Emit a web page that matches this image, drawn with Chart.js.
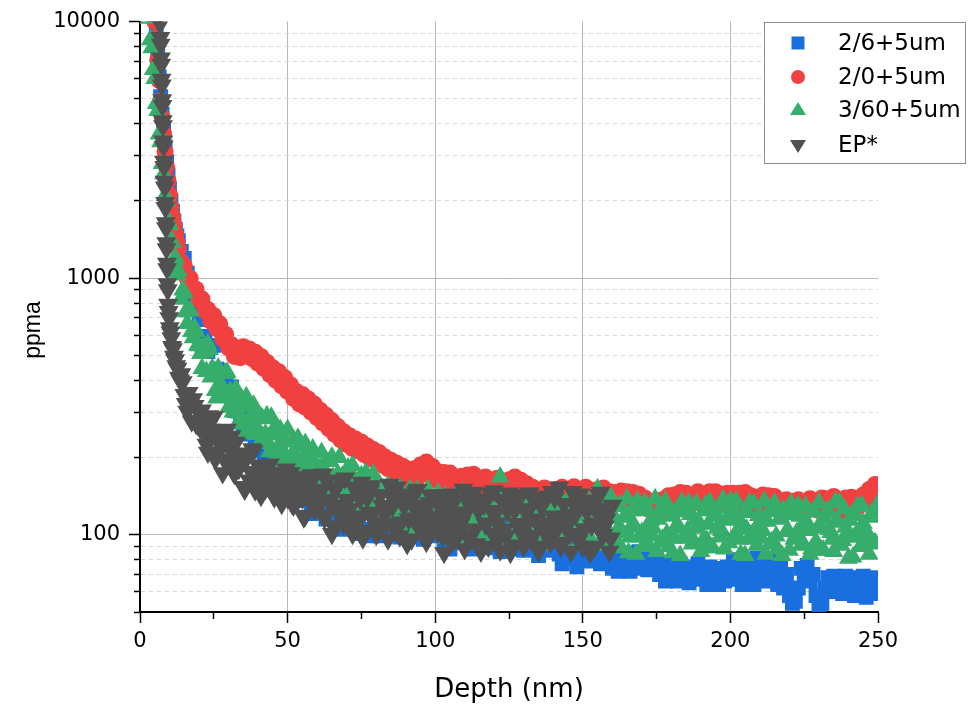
<!DOCTYPE html>
<html>
<head>
<meta charset="utf-8">
<title>ppma vs depth</title>
<script src="https://cdn.jsdelivr.net/npm/chart.js@4.4.0/dist/chart.umd.min.js"></script>
<style>
  html, body { margin: 0; padding: 0; background: #fff; }
  #wrap { width: 978px; height: 706px; }
</style>
</head>
<body>
<div id="wrap"><canvas id="chart" width="978" height="706"></canvas></div>
<script>
// depth grid (nm) shared by the three 5um samples
const depth = [
  2, 2.5, 3, 3.5, 4, 4.5, 5, 5.5, 6, 6.5, 7, 7.5, 8, 8.5, 9, 9.5, 10, 10.5, 11, 11.5, 12, 12.5,
  13, 14, 15, 16, 17, 18, 19, 20,
  21, 22, 23, 24, 25, 26, 27, 28, 29, 30,
  31, 32, 33, 34, 35, 36, 37, 38, 39, 40,
  41, 42, 43, 44, 45, 46, 47, 48, 49, 50,
  51, 52, 53, 54, 55, 56, 57, 58, 59, 60,
  61, 62, 63, 64, 65, 66, 67, 68, 69, 70,
  71, 72, 73, 74, 75, 76, 77, 78, 79, 80,
  81, 82, 83, 84, 85, 86, 87, 88, 89, 90,
  91, 92, 93, 94, 95, 96, 97, 98, 99, 100,
  101, 102, 103, 104, 105, 106, 107, 108, 109, 110,
  111, 112, 113, 114, 115, 116, 117, 118, 119, 120,
  121, 122, 123, 124, 125, 126, 127, 128, 129, 130,
  131, 132, 133, 134, 135, 136, 137, 138, 139, 140,
  141, 142, 143, 144, 145, 146, 147, 148, 149, 150,
  151, 152, 153, 154, 155, 156, 157, 158, 159, 160,
  161, 162, 163, 164, 165, 166, 167, 168, 169, 170,
  171, 172, 173, 174, 175, 176, 177, 178, 179, 180,
  181, 182, 183, 184, 185, 186, 187, 188, 189, 190,
  191, 192, 193, 194, 195, 196, 197, 198, 199, 200,
  201, 202, 203, 204, 205, 206, 207, 208, 209, 210,
  211, 212, 213, 214, 215, 216, 217, 218, 219, 220,
  221, 222, 223, 224, 225, 226, 227, 228, 229, 230,
  231, 232, 233, 234, 235, 236, 237, 238, 239, 240,
  241, 242, 243, 244, 245, 246, 247, 248, 249, 250
];

// in-between readings (nm), used by the two noisiest profiles
const depthMid = [
  14.5, 15.5, 16.5, 17.5, 18.5, 19.5,
  20.5, 21.5, 22.5, 23.5, 24.5, 25.5, 26.5, 27.5, 28.5, 29.5,
  30.5, 31.5, 32.5, 33.5, 34.5, 35.5, 36.5, 37.5, 38.5, 39.5,
  40.5, 41.5, 42.5, 43.5, 44.5, 45.5, 46.5, 47.5, 48.5, 49.5,
  50.5, 51.5, 52.5, 53.5, 54.5, 55.5, 56.5, 57.5, 58.5, 59.5,
  60.5, 61.5, 62.5, 63.5, 64.5, 65.5, 66.5, 67.5, 68.5, 69.5,
  70.5, 71.5, 72.5, 73.5, 74.5, 75.5, 76.5, 77.5, 78.5, 79.5,
  80.5, 81.5, 82.5, 83.5, 84.5, 85.5, 86.5, 87.5, 88.5, 89.5,
  90.5, 91.5, 92.5, 93.5, 94.5, 95.5, 96.5, 97.5, 98.5, 99.5,
  100.5, 101.5, 102.5, 103.5, 104.5, 105.5, 106.5, 107.5, 108.5, 109.5,
  110.5, 111.5, 112.5, 113.5, 114.5, 115.5, 116.5, 117.5, 118.5, 119.5,
  120.5, 121.5, 122.5, 123.5, 124.5, 125.5, 126.5, 127.5, 128.5, 129.5,
  130.5, 131.5, 132.5, 133.5, 134.5, 135.5, 136.5, 137.5, 138.5, 139.5,
  140.5, 141.5, 142.5, 143.5, 144.5, 145.5, 146.5, 147.5, 148.5, 149.5,
  150.5, 151.5, 152.5, 153.5, 154.5, 155.5, 156.5, 157.5, 158.5, 159.5,
  160.5, 161.5, 162.5, 163.5, 164.5, 165.5, 166.5, 167.5, 168.5, 169.5,
  170.5, 171.5, 172.5, 173.5, 174.5, 175.5, 176.5, 177.5, 178.5, 179.5,
  180.5, 181.5, 182.5, 183.5, 184.5, 185.5, 186.5, 187.5, 188.5, 189.5,
  190.5, 191.5, 192.5, 193.5, 194.5, 195.5, 196.5, 197.5, 198.5, 199.5,
  200.5, 201.5, 202.5, 203.5, 204.5, 205.5, 206.5, 207.5, 208.5, 209.5,
  210.5, 211.5, 212.5, 213.5, 214.5, 215.5, 216.5, 217.5, 218.5, 219.5,
  220.5, 221.5, 222.5, 223.5, 224.5, 225.5, 226.5, 227.5, 228.5, 229.5,
  230.5, 231.5, 232.5, 233.5, 234.5, 235.5, 236.5, 237.5, 238.5, 239.5,
  240.5, 241.5, 242.5, 243.5, 244.5, 245.5, 246.5, 247.5, 248.5, 249.5
];

// 2/6+5um (ppma)
const blueValues = [
  null, null, 17000, 15000, 13200, 11600, 10400, 8900, 7400, 6100, 5100, 4350, 3750, 3250, 2850, 2520, 2230, 2000, 1820, 1670, 1550, 1460,
  1400, 1270, 1195, 1045, 960, 850, 785, 690,
  701, 593, 517, 538, 547, 442, 437, 367, 406, 353,
  377, 305, 317, 294, 258, 288, 247, 275, 221, 239,
  246, 196, 211, 196, 172, 202, 170, 198, 155, 174,
  177, 155, 139, 156, 167, 136, 142, 121, 145, 129,
  145, 128, 115, 132, 143, 117, 123, 105, 129, 114,
  133, 107, 119, 114, 101, 123, 105, 127, 99, 115,
  99, 122, 109, 127, 103, 114, 109, 98, 120, 102,
  124, 98, 113, 118, 105, 96, 110, 121, 99, 105,
  104, 114, 95, 101, 88, 107, 97, 112, 93, 103,
  97, 88, 106, 92, 111, 89, 103, 107, 97, 89,
  95, 86, 104, 91, 109, 88, 101, 105, 95, 87,
  98, 107, 89, 95, 83, 101, 91, 105, 87, 97,
  93, 84, 77, 89, 97, 81, 86, 75, 91, 82,
  88, 79, 90, 80, 86, 77, 84, 80, 83, 74,
  82, 72, 84, 78, 85, 72, 82, 74, 86, 76,
  84, 73, 87, 78, 82, 70, 76, 66, 77, 68,
  74, 66, 77, 69, 75, 65, 72, 67, 77, 70,
  73, 64, 75, 68, 74, 64, 71, 66, 75, 67,
  80, 68, 77, 64, 79, 70, 76, 64, 81, 72,
  78, 66, 80, 71, 77, 64, 74, 62, 70, 58,
  54, 55, 62, 74, 67, 76, 66, 70, 58, 53,
  54, 62, 68, 60, 69, 61, 67, 59, 69, 62,
  68, 58, 66, 60, 69, 57, 65, 59, 68, 62
];

// 2/0+5um (ppma)
const redValues = [
  null, null, 16000, 14000, 12500, 11200, 10000, 8600, 7100, 5900, 4900, 4250, 3650, 3120, 2720, 2400, 2120, 1900, 1740, 1610, 1490, 1390,
  1300, 1160, 1120, 1000, 1000, 890, 905, 825,
  830, 745, 755, 680, 715, 635, 665, 580, 605, 535,
  550, 495, 525, 490, 540, 500, 530, 485, 515, 465,
  495, 445, 470, 420, 448, 400, 432, 380, 410, 362,
  384, 340, 362, 323, 352, 314, 338, 300, 323, 286,
  306, 272, 292, 259, 278, 246, 264, 234, 252, 225,
  243, 217, 236, 212, 230, 205, 222, 198, 215, 193,
  209, 187, 201, 181, 195, 175, 190, 170, 185, 166,
  180, 163, 181, 167, 187, 172, 192, 171, 185, 164,
  176, 158, 175, 162, 174, 155, 168, 151, 169, 156,
  171, 157, 172, 153, 166, 154, 168, 150, 163, 149,
  166, 147, 159, 146, 164, 151, 168, 150, 163, 145,
  158, 141, 153, 137, 148, 136, 152, 138, 148, 136,
  150, 140, 153, 139, 149, 140, 154, 141, 150, 140,
  153, 140, 149, 136, 150, 141, 152, 137, 147, 136,
  146, 132, 148, 139, 147, 138, 146, 137, 144, 132,
  139, 126, 135, 127, 136, 123, 137, 129, 142, 133,
  143, 134, 146, 133, 145, 132, 142, 134, 147, 135,
  144, 135, 147, 134, 147, 135, 144, 132, 145, 135,
  145, 132, 145, 133, 146, 133, 142, 130, 140, 131,
  143, 130, 142, 129, 141, 127, 135, 123, 137, 125,
  135, 127, 137, 123, 133, 125, 138, 126, 134, 124,
  139, 129, 138, 125, 141, 129, 132, 123, 139, 130,
  140, 126, 138, 130, 143, 134, 150, 143, 157, 146
];

// 3/60+5um (ppma)
const greenValues = [
  13000, 11200, 10300, 8500, 7900, 6500, 6000, 4800, 4500, 3650, 3400, 2800, 2550, 2100, 2000, 1680, 1620, 1380, 1380, 1180, 1200, 1030,
  1070, 828, 875, 666, 748, 586, 620, 545,
  445, 516, 554, 412, 432, 341, 432, 360, 425, 314,
  353, 324, 270, 344, 275, 345, 248, 296, 304, 257,
  287, 230, 291, 211, 254, 263, 223, 193, 232, 257,
  196, 210, 170, 220, 188, 227, 171, 196, 183, 155,
  182, 143, 193, 162, 201, 147, 172, 159, 133, 178,
  141, 186, 131, 162, 170, 142, 123, 152, 172, 129,
  158, 119, 147, 155, 131, 113, 140, 152, 119, 131,
  104, 141, 119, 149, 110, 130, 121, 102, 138, 110,
  145, 110, 121, 97, 132, 113, 142, 105, 125, 117,
  97, 131, 106, 140, 100, 126, 134, 114, 99, 124,
  119, 168, 95, 129, 104, 138, 98, 124, 131, 112,
  96, 119, 137, 103, 114, 91, 125, 106, 133, 99,
  128, 109, 95, 118, 136, 102, 113, 90, 124, 105,
  135, 94, 116, 108, 151, 127, 98, 138, 91, 121,
  129, 106, 89, 117, 138, 98, 111, 84, 124, 102,
  133, 92, 114, 106, 86, 125, 96, 135, 90, 119,
  97, 110, 83, 123, 101, 133, 92, 114, 106, 86,
  124, 95, 134, 89, 118, 127, 104, 88, 115, 135,
  115, 135, 96, 109, 83, 122, 100, 132, 91, 113,
  104, 84, 123, 94, 133, 88, 117, 125, 103, 87,
  120, 99, 130, 91, 112, 104, 84, 123, 94, 133,
  87, 116, 124, 102, 86, 113, 133, 95, 107, 81,
  119, 98, 129, 90, 111, 103, 84, 122, 93, 132
];

// 3/60+5um at depthMid
const greenMidValues = [
  900, 740, 745, 620, 640, 548,
  509, 541, 433, 527, 445, 365, 447, 383, 347, 430,
  362, 301, 369, 298, 323, 248, 316, 276, 320, 246,
  227, 283, 247, 227, 287, 245, 207, 257, 211, 231,
  179, 230, 203, 238, 184, 189, 208, 172, 216, 188,
  162, 209, 179, 148, 193, 167, 154, 200, 169, 141,
  182, 146, 164, 124, 165, 145, 174, 132, 137, 153,
  152, 131, 147, 111, 149, 131, 150, 120, 126, 141,
  115, 150, 129, 108, 141, 124, 114, 150, 129, 108,
  115, 130, 107, 141, 122, 103, 135, 119, 111, 146,
  122, 103, 135, 110, 125, 96, 129, 115, 139, 107,
  114, 106, 140, 120, 102, 133, 108, 123, 94, 127,
  111, 135, 103, 109, 123, 101, 132, 115, 97, 127,
  111, 103, 137, 117, 99, 129, 105, 119, 92, 124,
  106, 122, 97, 134, 113, 91, 127, 109, 100, 140,
  116, 94, 130, 102, 119, 85, 124, 107, 135, 98,
  90, 125, 107, 99, 138, 115, 94, 129, 101, 118,
  85, 123, 106, 134, 97, 104, 120, 95, 132, 111,
  94, 130, 110, 89, 124, 106, 98, 137, 114, 93,
  128, 100, 117, 84, 122, 105, 133, 96, 103, 119,
  97, 135, 113, 92, 127, 99, 115, 83, 120, 104,
  132, 96, 102, 118, 93, 129, 109, 88, 123, 106,
  108, 87, 122, 105, 96, 134, 112, 91, 126, 98,
  114, 82, 119, 103, 130, 95, 101, 117, 92, 128
];

// EP* has its own, finer depth grid near the surface and stops at 160 nm
const epDepth = [
  6.7, 6.8, 6.9, 7, 7.1, 7.2, 7.3, 7.4, 7.5, 7.6, 7.7, 7.8, 7.9, 8, 8.1, 8.2, 8.3, 8.4, 8.5, 8.6,
  8.7, 8.8, 8.9, 9, 9.1, 9.2, 9.3, 9.4, 9.5,
  9.7, 9.9, 10.1, 10.3, 10.6, 10.9, 11.2, 11.5, 11.9, 12.3, 12.7, 13.2, 13.6,
  14, 15, 16, 17, 18, 19, 20,
  21, 22, 23, 24, 25, 26, 27, 28, 29, 30,
  31, 32, 33, 34, 35, 36, 37, 38, 39, 40,
  41, 42, 43, 44, 45, 46, 47, 48, 49, 50,
  51, 52, 53, 54, 55, 56, 57, 58, 59, 60,
  61, 62, 63, 64, 65, 66, 67, 68, 69, 70,
  71, 72, 73, 74, 75, 76, 77, 78, 79, 80,
  81, 82, 83, 84, 85, 86, 87, 88, 89, 90,
  91, 92, 93, 94, 95, 96, 97, 98, 99, 100,
  101, 102, 103, 104, 105, 106, 107, 108, 109, 110,
  111, 112, 113, 114, 115, 116, 117, 118, 119, 120,
  121, 122, 123, 124, 125, 126, 127, 128, 129, 130,
  131, 132, 133, 134, 135, 136, 137, 138, 139, 140,
  141, 142, 143, 144, 145, 146, 147, 148, 149, 150,
  151, 152, 153, 154, 155, 156, 157, 158, 159, 160
];

const epValues = [
  10800, 9800, 8650, 8150, 7200, 6800, 5950, 5650, 4950, 4700, 4100, 3920, 3420, 3260, 2850, 2720, 2380, 2260, 1970, 1880,
  1640, 1570, 1370, 1300, 1140, 1085, 950, 900, 790,
  740, 700, 640, 615, 585, 540, 530, 495, 480, 455, 445, 410, 400,
  423, 351, 302, 324, 338, 271, 278,
  306, 250, 209, 257, 288, 209, 226, 174, 235, 194,
  242, 173, 203, 187, 154, 208, 163, 216, 149, 186,
  142, 181, 157, 188, 144, 164, 154, 132, 169, 139,
  174, 130, 155, 162, 139, 119, 149, 171, 126, 139,
  146, 172, 120, 136, 101, 150, 123, 162, 110, 137,
  126, 101, 149, 113, 160, 104, 139, 148, 121, 100,
  105, 130, 121, 96, 142, 108, 153, 99, 132, 143,
  115, 96, 128, 150, 106, 120, 94, 133, 108, 143,
  102, 117, 85, 132, 106, 144, 96, 122, 112, 88,
  134, 99, 146, 92, 127, 137, 110, 90, 124, 148,
  111, 87, 133, 99, 145, 91, 125, 136, 109, 90,
  121, 145, 99, 114, 86, 129, 104, 141, 93, 118,
  104, 153, 93, 118, 110, 86, 132, 98, 144, 90,
  125, 136, 109, 90, 122, 146, 100, 115, 86, 130
];

// EP* at depthMid (up to 159.5 nm)
const epMidValues = [
  394, 324, 358, 277, 318, 269,
  259, 285, 225, 290, 243, 197, 256, 219, 197, 257,
  215, 177, 229, 181, 202, 150, 202, 176, 212, 158,
  165, 180, 151, 188, 164, 140, 174, 154, 144, 180,
  156, 132, 168, 137, 153, 117, 155, 137, 164, 126,
  130, 150, 116, 163, 137, 108, 152, 130, 118, 166,
  137, 110, 153, 118, 138, 97, 143, 122, 155, 111,
  102, 143, 122, 111, 157, 129, 104, 144, 112, 130,
  92, 136, 116, 147, 106, 112, 130, 101, 142, 118,
  109, 129, 99, 143, 119, 93, 135, 114, 103, 150,
  122, 96, 139, 105, 125, 86, 131, 111, 145, 101,
  121, 96, 137, 105, 124, 85, 130, 111, 143, 100,
  107, 126, 96, 139, 115, 90, 132, 111, 101, 147,
  139, 115, 90, 132, 111, 101, 147, 120, 95, 136,
  105, 124, 85, 130, 111, 143, 100, 108, 127, 97
];

const seriesLabels = ['2/6+5um', '2/0+5um', '3/60+5um', 'EP*'];
const xTickValues = [0, 25, 50, 75, 100, 125, 150, 175, 200, 225, 250];
const yTickValues = [50, 60, 70, 80, 90, 100, 200, 300, 400, 500, 600, 700, 800, 900,
  1000, 2000, 3000, 4000, 5000, 6000, 7000, 8000, 9000, 10000];

function toPoints(xs, ys) {
  const pts = [];
  xs.forEach((x, i) => {
    if (ys[i] !== null && ys[i] !== undefined) pts.push({ x: x, y: ys[i] });
  });
  return pts;
}

function isDecade(v) {
  const l = Math.log10(v);
  return Math.abs(l - Math.round(l)) < 1e-9;
}

Chart.defaults.font.family = '"DejaVu Sans", sans-serif';
Chart.defaults.color = '#000';

// legend box drawn inside the plot, top right, like the original
const legendRows = [43, 77, 110, 145];
const insideLegend = {
  id: 'insideLegend',
  afterDraw(chart) {
    const ctx = chart.ctx;
    ctx.save();
    ctx.fillStyle = '#fff';
    ctx.fillRect(764, 22, 202, 142);
    ctx.strokeStyle = '#8c8c8c';
    ctx.lineWidth = 1;
    ctx.strokeRect(764.5, 22.5, 201, 141);

    chart.data.datasets.forEach((ds, i) => {
      const cx = 798, cy = legendRows[i];
      ctx.fillStyle = ds.backgroundColor;
      ctx.beginPath();
      if (ds.pointStyle === 'rect') {
        ctx.rect(cx - 6.5, cy - 6.5, 13, 13);
      } else if (ds.pointStyle === 'circle') {
        ctx.arc(cx, cy, 7, 0, Math.PI * 2);
      } else if (ds.pointRotation === 180) {
        ctx.moveTo(cx - 8, cy - 5);
        ctx.lineTo(cx + 8, cy - 5);
        ctx.lineTo(cx, cy + 8);
      } else {
        ctx.moveTo(cx - 8, cy + 5);
        ctx.lineTo(cx + 8, cy + 5);
        ctx.lineTo(cx, cy - 8);
      }
      ctx.closePath();
      ctx.fill();

      ctx.fillStyle = '#000';
      ctx.font = '23px "DejaVu Sans"';
      ctx.textBaseline = 'middle';
      ctx.textAlign = 'left';
      ctx.fillText(ds.label, 838, cy + 1);
    });

    // y axis title
    ctx.translate(34, 330);
    ctx.rotate(-Math.PI / 2);
    ctx.fillStyle = '#000';
    ctx.font = '23px "Liberation Sans", Arial, sans-serif';
    ctx.textAlign = 'center';
    ctx.textBaseline = 'middle';
    ctx.fillText('ppma', 0, 0);
    ctx.restore();
  }
};

const ctx = document.getElementById('chart').getContext('2d');
new Chart(ctx, {
  type: 'scatter',
  data: {
    datasets: [
      {
        label: seriesLabels[0],
        data: toPoints(depth, blueValues),
        pointStyle: 'rect',
        pointRadius: 10.5,
        backgroundColor: '#1A6FDF',
        pointBorderWidth: 0,
        clip: 0,
        order: 4
      },
      {
        label: seriesLabels[1],
        data: toPoints(depth, redValues),
        pointStyle: 'circle',
        pointRadius: 8.5,
        backgroundColor: '#F14040',
        pointBorderWidth: 0,
        clip: 0,
        order: 3
      },
      {
        label: seriesLabels[2],
        data: toPoints(depth, greenValues).concat(toPoints(depthMid, greenMidValues)),
        pointStyle: 'triangle',
        pointRadius: 11,
        backgroundColor: '#37AD6B',
        pointBorderWidth: 0,
        clip: 0,
        order: 2
      },
      {
        label: seriesLabels[3],
        data: toPoints(epDepth, epValues).concat(toPoints(depthMid, epMidValues)),
        pointStyle: 'triangle',
        pointRotation: 180,
        pointRadius: 11.5,
        backgroundColor: '#515151',
        pointBorderWidth: 0,
        clip: 0,
        order: 1
      }
    ]
  },
  options: {
    responsive: false,
    animation: false,
    events: [],
    layout: { padding: { top: 18, right: 100, left: 0, bottom: 0 } },
    plugins: {
      legend: { display: false },
      tooltip: { enabled: false }
    },
    scales: {
      x: {
        type: 'linear',
        min: 0,
        max: 250,
        afterBuildTicks: (scale) => { scale.ticks = xTickValues.map(v => ({ value: v })); },
        afterFit: (scale) => { scale.height = 94; },
        ticks: {
          autoSkip: false,
          maxRotation: 0,
          padding: 6,
          color: '#000',
          font: { size: 21 },
          callback: (v) => (v % 50 === 0 ? String(v) : '')
        },
        grid: {
          color: (c) => (c.tick && c.tick.value % 50 === 0 && c.tick.value > 0 && c.tick.value < 250) ? '#b8b8b8' : 'rgba(0,0,0,0)',
          lineWidth: 1,
          tickColor: '#000',
          tickLength: 11,
          tickWidth: 1.5,
          tickBorderDash: (c) => (c.tick && c.tick.value % 50 !== 0 ? [6, 100] : [])
        },
        border: { color: '#000', width: 2 },
        title: {
          display: true,
          text: 'Depth (nm)',
          color: '#000',
          font: { size: 26 },
          padding: { top: 0, bottom: 0 }
        }
      },
      y: {
        type: 'logarithmic',
        min: 50,
        max: 10000,
        afterBuildTicks: (scale) => { scale.ticks = yTickValues.map(v => ({ value: v })); },
        afterFit: (scale) => { scale.width = 140; },
        ticks: {
          autoSkip: false,
          padding: 9,
          color: '#000',
          font: { size: 21 },
          callback: (v) => (isDecade(v) ? String(v) : '')
        },
        grid: {
          color: (c) => {
            if (!c.tick) return 'rgba(0,0,0,0)';
            const v = c.tick.value;
            if (v === 10000 || v === 50) return 'rgba(0,0,0,0)';
            return isDecade(v) ? '#b8b8b8' : '#d6d6d6';
          },
          lineWidth: 1,
          tickColor: '#000',
          tickLength: 11,
          tickWidth: 1.5,
          tickBorderDash: (c) => (c.tick && !isDecade(c.tick.value) ? [0, 5, 10, 0] : [])
        },
        border: {
          color: '#000',
          width: 2,
          dash: (c) => (c.tick && !isDecade(c.tick.value) ? [4, 4] : [])
        },
        title: { display: false }
      }
    }
  },
  plugins: [insideLegend]
});
</script>
</body>
</html>
